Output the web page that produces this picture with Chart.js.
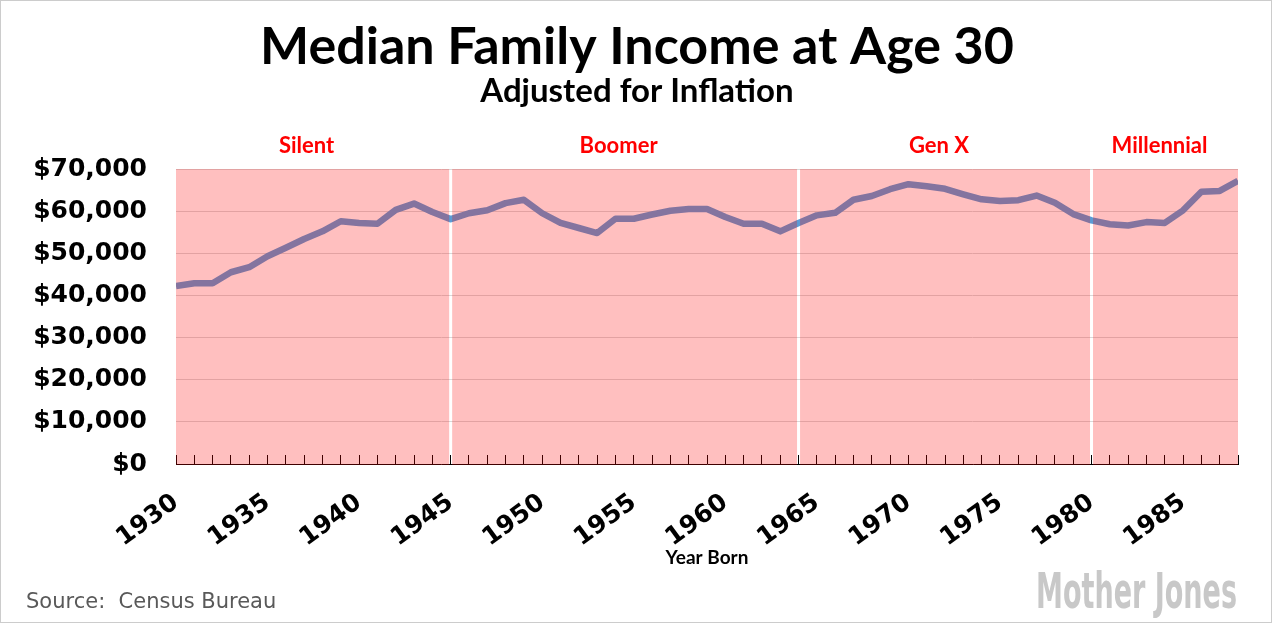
<!DOCTYPE html>
<html><head><meta charset="utf-8">
<script src="https://cdn.jsdelivr.net/npm/chart.js@4.4.1/dist/chart.umd.min.js"></script>
<style>html,body{margin:0;padding:0;background:#fff;}#wrap{position:relative;width:1274px;height:623px;}</style>
</head><body><div id="wrap"><canvas id="c"></canvas></div>
<script>
const years = [1930,1931,1932,1933,1934,1935,1936,1937,1938,1939,1940,1941,1942,1943,1944,1945,1946,1947,1948,1949,1950,1951,1952,1953,1954,1955,1956,1957,1958,1959,1960,1961,1962,1963,1964,1965,1966,1967,1968,1969,1970,1971,1972,1973,1974,1975,1976,1977,1978,1979,1980,1981,1982,1983,1984,1985,1986,1987,1988];
const income = [42200,42900,42900,45500,46700,49300,51300,53400,55200,57600,57200,57000,60300,61800,59800,58100,59500,60200,61900,62700,59500,57200,56000,54800,58200,58200,59200,60100,60500,60500,58600,57000,57000,55200,57200,59000,59600,62700,63600,65200,66400,65900,65300,64000,62800,62400,62600,63700,62000,59300,57800,56900,56600,57400,57200,60200,64600,64800,67200];
const yTickValues = [0,10000,20000,30000,40000,50000,60000,70000];
const xLabelYears = [1930,1935,1940,1945,1950,1955,1960,1965,1970,1975,1980,1985];
const generations = ['Silent','Boomer','Gen X','Millennial'];
const genStart = [1930,1945,1964,1980];
const genEnd = [1945,1964,1980,1988];
const bandTop = 70000;

const bandsPlugin = {
  id: 'bands',
  afterDatasetsDraw(chart) {
    const {ctx, chartArea, scales: {x, y}} = chart;
    const yt = y.getPixelForValue(bandTop), yb = y.getPixelForValue(0) + 1;
    ctx.save();
    genStart.forEach((s, i) => {
      let x0 = x.getPixelForValue(s), x1 = x.getPixelForValue(genEnd[i]);
      if (i > 0) x0 += 1.5;
      if (i < genStart.length - 1) x1 -= 1.5;
      ctx.fillStyle = 'rgba(255,0,0,0.25)';
      ctx.fillRect(x0, yt, x1 - x0, yb - yt);
      ctx.fillStyle = '#ff0000';
      ctx.font = 'bold 22px Lato';
      ctx.textAlign = 'center';
      ctx.textBaseline = 'alphabetic';
      ctx.fillText(generations[i], (x0 + x1) / 2 - 6, chartArea.top - 16);
    });
    ctx.restore();
  }
};

const footerPlugin = {
  id: 'footer',
  afterDraw(chart) {
    const ctx = chart.ctx;
    ctx.save();
    ctx.fillStyle = '#595959';
    ctx.font = '21px "DejaVu Sans"';
    ctx.textAlign = 'left';
    ctx.textBaseline = 'alphabetic';
    ctx.fillText('Source:  Census Bureau', 26, 608);
    ctx.font = 'bold 50px "Liberation Sans Narrow", "DejaVu Sans Condensed", sans-serif';
    const w = ctx.measureText('Mother Jones').width;
    ctx.translate(1036, 608);
    ctx.scale(201 / w, 1);
    ctx.fillStyle = '#c8c8c8';
    ctx.fillText('Mother Jones', 0, 0);
    ctx.restore();
    ctx.save();
    ctx.strokeStyle = '#cccccc';
    ctx.lineWidth = 1;
    ctx.strokeRect(0.5, 0.5, 1271, 622);
    ctx.restore();
  }
};

new Chart(document.getElementById('c'), {
  type: 'line',
  data: {
    datasets: [{
      data: years.map((yr, i) => ({x: yr, y: income[i]})),
      borderColor: '#5b9bd5',
      borderWidth: 6.5,
      pointRadius: 0,
      tension: 0,
      borderJoinStyle: 'round'
    }]
  },
  options: {
    responsive: true,
    maintainAspectRatio: false,
    animation: false,
    layout: {padding: {left: 0, right: 0, top: 0, bottom: 0}},
    plugins: {
      legend: {display: false},
      tooltip: {enabled: false},
      title: {display: true, text: 'Median Family Income at Age 30', color: '#000',
        font: {family: 'Lato', size: 52, weight: 'bold', lineHeight: 1}, padding: {top: 21, bottom: 2}},
      subtitle: {display: true, text: 'Adjusted for Inflation', color: '#000',
        font: {family: 'Lato', size: 33, weight: 'bold', lineHeight: 1}, padding: {top: 0, bottom: 61}}
    },
    scales: {
      x: {
        type: 'linear', min: 1930, max: 1988,
        afterBuildTicks: axis => { axis.ticks = years.map(v => ({value: v})); },
        ticks: {autoSkip: false, minRotation: 36, maxRotation: 36,
          callback: v => xLabelYears.includes(v) ? String(v) : '',
          font: {family: 'DejaVu Sans', size: 25, weight: 'bold'}, color: '#000', padding: 33},
        grid: {drawOnChartArea: false, drawTicks: true, tickLength: -9, tickColor: '#000', tickWidth: 1},
        border: {display: true, color: '#000', width: 1},
        title: {display: true, text: 'Year Born', color: '#000',
          font: {family: 'Lato', size: 19, weight: 'bold'}, padding: {top: 0, bottom: 54}},
        afterFit: s => { s.height = 159; s.paddingLeft = 0; s.paddingRight = 36; }
      },
      y: {
        min: 0, max: 70000,
        afterBuildTicks: axis => { axis.ticks = yTickValues.map(v => ({value: v})); },
        ticks: {callback: v => '$' + Number(v).toLocaleString('en-US'),
          font: {family: 'DejaVu Sans', size: 25, weight: 'bold'}, color: '#000', padding: 29},
        grid: {color: '#d9d9d9', drawTicks: false},
        border: {display: false},
        afterFit: s => { s.width = 176; }
      }
    }
  },
  plugins: [bandsPlugin, footerPlugin]
});
</script></body></html>
